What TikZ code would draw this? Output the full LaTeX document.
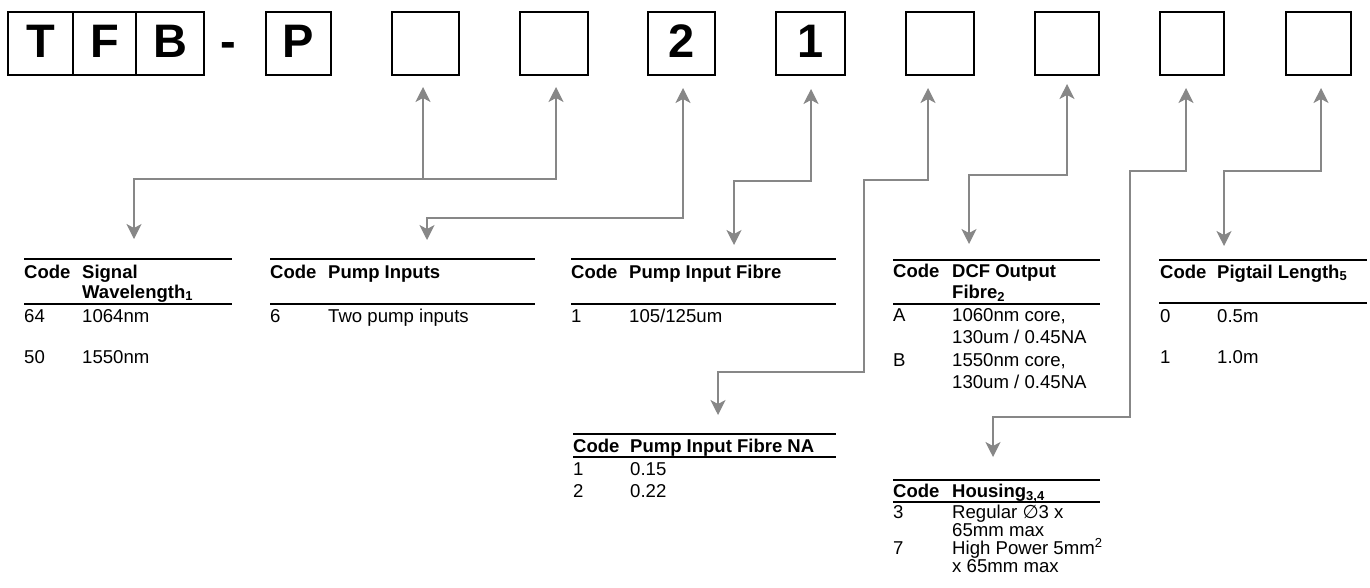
\documentclass[tikz,border=0pt]{standalone}
\usepackage{fontspec}
\setmainfont{Liberation Sans}
\newfontfamily\symfont{DejaVu Sans}
\usetikzlibrary{arrows.meta}
\definecolor{conngray}{RGB}{135,135,135}
\begin{document}
\begin{tikzpicture}[x=1pt,y=-1pt,
  codebox/.style={draw, line width=1.3pt, minimum height=63pt, inner sep=0pt},
  bigletter/.style={anchor=base, inner sep=0pt, font=\fontsize{47}{50}\selectfont\bfseries},
  conn/.style={draw=conngray, line width=1.3pt, >={Stealth[length=15pt,width=15pt,inset=4pt]}},
  tline/.style={line width=1.6pt},
  tx/.style={anchor=base west, inner sep=0pt, font=\fontsize{18.6}{20}\selectfont},
  th/.style={tx, font=\fontsize{18.5}{20}\selectfont\bfseries}]
\useasboundingbox (0,0) rectangle (1370,587);

% code boxes
\node[codebox, minimum width=65pt] (b1) at (40.5,43.5) {};
\node[codebox, minimum width=63pt] (b2) at (104.5,43.5) {};
\node[codebox, minimum width=68pt] (b3) at (170,43.5) {};
\node[codebox, minimum width=65pt] (b5) at (298.5,43.5) {};
\node[codebox, minimum width=67pt] (b6) at (425.5,43.5) {};
\node[codebox, minimum width=68pt] (b7) at (554,43.5) {};
\node[codebox, minimum width=67pt] (b8) at (681.5,43.5) {};
\node[codebox, minimum width=69pt] (b9) at (810.5,43.5) {};
\node[codebox, minimum width=68pt] (b10) at (940,43.5) {};
\node[codebox, minimum width=64pt] (b11) at (1067,43.5) {};
\node[codebox, minimum width=64pt] (b12) at (1192,43.5) {};
\node[codebox, minimum width=65pt] (b13) at (1318.5,43.5) {};

\node[bigletter] (l1) at (b1.center |- 0,57) {T};
\node[bigletter] (l2) at (b2.center |- 0,57) {F};
\node[bigletter] (l3) at (b3.center |- 0,57) {B};
\node[bigletter] (l4) at (228,57) {-};
\node[bigletter] (l5) at (b5.center |- 0,57) {P};
\node[bigletter] (l8) at (b8.center |- 0,57) {2};
\node[bigletter] (l9) at (b9.center |- 0,57) {1};

% arrow tips and corners
\coordinate (t6) at (423,87);
\coordinate (t7) at (556,87);
\coordinate (t8) at (683,88);
\coordinate (t9) at (811,89);
\coordinate (t10) at (928,88);
\coordinate (t11) at (1067,84);
\coordinate (t12) at (1186,88);
\coordinate (t13) at (1321,88);

\coordinate (j1) at (134,179);
\coordinate (j6) at (423,179);
\coordinate (a1) at (134,239);
\coordinate (j2) at (427,218);
\coordinate (a2) at (427,240);
\coordinate (j3) at (734,181);
\coordinate (a3) at (734,245);
\coordinate (j4a) at (864,180);
\coordinate (j4b) at (718,372);
\coordinate (a4) at (718,415);
\coordinate (j5) at (969,175);
\coordinate (a5) at (969,244);
\coordinate (j7a) at (1130,171);
\coordinate (j7b) at (993,417);
\coordinate (a6) at (993,457);
\coordinate (j8) at (1224,171);
\coordinate (a7) at (1224,246);

% connectors
\draw[conn,<-] (t6) -- (j6);
\draw[conn,<->] (t7) |- (j1) -- (a1);
\draw[conn,<->] (t8) |- (j2) -- (a2);
\draw[conn,<->] (t9) |- (j3) -- (a3);
\draw[conn,<->] (t10) |- (j4a) |- (j4b) -- (a4);
\draw[conn,<->] (t11) |- (j5) -- (a5);
\draw[conn,<->] (t12) |- (j7a) |- (j7b) -- (a6);
\draw[conn,<->] (t13) |- (j8) -- (a7);

% table 1: signal wavelength
\draw[tline] (24,259) -- (232,259) (24,304) -- (232,304);
\node[th] (h1a) at (24,278) {Code};
\node[th] (h1b) at (82,278) {Signal};
\node[th] (h1c) at (82,298) {Wavelength\textsubscript{1}};
\node[tx] (r1a) at (24,322) {64};
\node[tx] (r1b) at (82,322) {1064nm};
\node[tx] (r1c) at (24,363) {50};
\node[tx] (r1d) at (82,363) {1550nm};

% table 2: pump inputs
\draw[tline] (270,259) -- (535,259) (270,304) -- (535,304);
\node[th] (h2a) at (270,278) {Code};
\node[th] (h2b) at (328,278) {Pump Inputs};
\node[tx] (r2a) at (270,322) {6};
\node[tx] (r2b) at (328,322) {Two pump inputs};

% table 3: pump input fibre
\draw[tline] (571,259) -- (836,259) (571,304) -- (836,304);
\node[th] (h3a) at (571,278) {Code};
\node[th] (h3b) at (629,278) {Pump Input Fibre};
\node[tx] (r3a) at (571,322) {1};
\node[tx] (r3b) at (629,322) {105/125um};

% table 4: DCF output fibre
\draw[tline] (893,260) -- (1100,260) (893,304) -- (1100,304);
\node[th] (h4a) at (893,277) {Code};
\node[th] (h4b) at (952,277) {DCF Output};
\node[th] (h4c) at (952,298) {Fibre\textsubscript{2}};
\node[tx] (r4a) at (893,321) {A};
\node[tx] (r4b) at (952,321) {1060nm core,};
\node[tx] (r4c) at (952,343) {130um / 0.45NA};
\node[tx] (r4d) at (893,366) {B};
\node[tx] (r4e) at (952,366) {1550nm core,};
\node[tx] (r4f) at (952,388) {130um / 0.45NA};

% table 5: pigtail length
\draw[tline] (1159,260) -- (1367,260) (1159,303) -- (1367,303);
\node[th] (h5a) at (1160,278) {Code};
\node[th] (h5b) at (1217,278) {Pigtail Length\textsubscript{5}};
\node[tx] (r5a) at (1160,322) {0};
\node[tx] (r5b) at (1217,322) {0.5m};
\node[tx] (r5c) at (1160,363) {1};
\node[tx] (r5d) at (1217,363) {1.0m};

% table 6: pump input fibre NA
\draw[tline] (573,434) -- (836,434) (573,457) -- (836,457);
\node[th] (h6a) at (573,452) {Code};
\node[th] (h6b) at (630,452) {Pump Input Fibre NA};
\node[tx] (r6a) at (573,475) {1};
\node[tx] (r6b) at (630,475) {0.15};
\node[tx] (r6c) at (573,497) {2};
\node[tx] (r6d) at (630,497) {0.22};

% table 7: housing
\draw[tline] (893,480) -- (1100,480) (893,502) -- (1100,502);
\node[th] (h7a) at (893,497) {Code};
\node[th] (h7b) at (952,497) {Housing\textsubscript{3,4}};
\node[tx] (r7a) at (893,518) {3};
\node[tx] (r7b) at (952,518) {Regular {\symfont ∅}3 x};
\node[tx] (r7c) at (952,536) {65mm max};
\node[tx] (r7d) at (893,554) {7};
\node[tx] (r7e) at (952,554) {High Power 5mm\textsuperscript{2}};
\node[tx] (r7f) at (952,572) {x 65mm max};
\end{tikzpicture}
\end{document}
